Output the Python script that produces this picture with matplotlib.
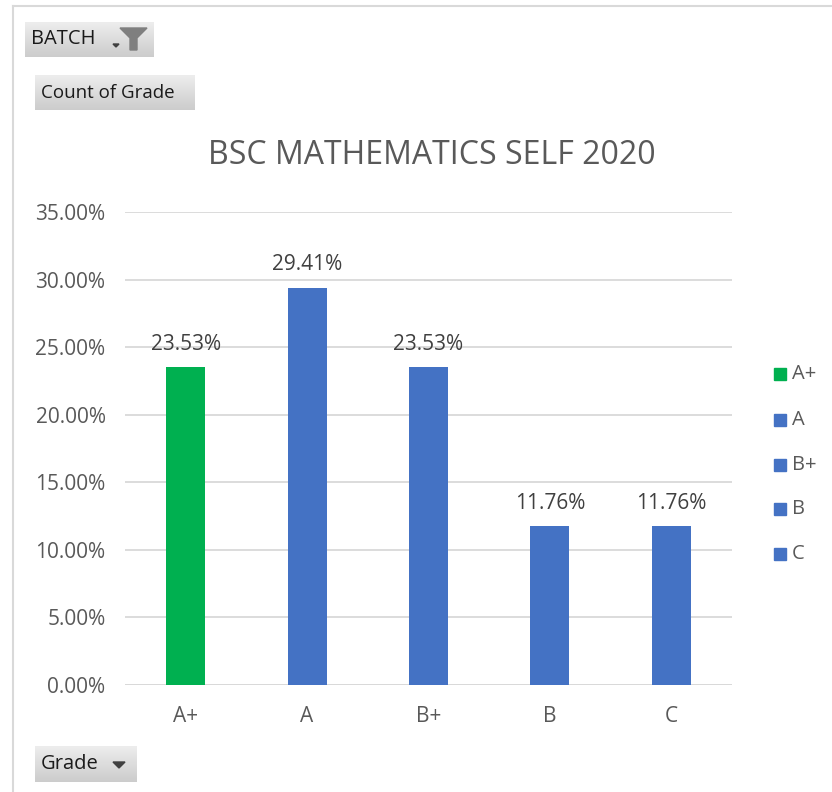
import numpy as np
import matplotlib
matplotlib.use("Agg")
import matplotlib.pyplot as plt
from matplotlib.patches import Rectangle, Polygon

plt.rcParams['font.family'] = ['Open Sans', 'DejaVu Sans']

categories = ["A+", "A", "B+", "B", "C"]
values = [23.53, 29.41, 23.53, 11.76, 11.76]
colors = ["#00B050", "#4472C4", "#4472C4", "#4472C4", "#4472C4"]
yticks = [0, 5, 10, 15, 20, 25, 30, 35]
title = "BSC MATHEMATICS SELF 2020"

W, H = 832, 792
fig = plt.figure(figsize=(W / 100, H / 100), dpi=100)

def fx(px):
    return px / W

def fy(py):
    return 1 - py / H

# outer border of chart area
fig.add_artist(plt.Line2D([fx(13), fx(13)], [fy(6), 0], color="#D9D9D9", lw=1.5))
fig.add_artist(plt.Line2D([fx(13), 1], [fy(6), fy(6)], color="#D9D9D9", lw=1.5))

ax = fig.add_axes([fx(125), fy(685), fx(732) - fx(125), fy(212) - fy(685)])
x = np.arange(len(categories))
bars = ax.bar(x, values, width=0.32, color=colors, zorder=3)
ax.set_xlim(-0.5, len(categories) - 0.5)
ax.set_ylim(0, 35)
ax.set_yticks(yticks)
ax.set_yticklabels([f"{v:.2f}%" for v in yticks])
ax.set_xticks(x)
ax.set_xticklabels(categories)
ax.yaxis.grid(True, color="#D9D9D9", lw=1.3, zorder=0)
for s in ax.spines.values():
    s.set_visible(False)
ax.axhline(0, color="#D9D9D9", lw=1.3, zorder=2)
ax.tick_params(axis="both", length=0, labelsize=15, labelcolor="#595959")
ax.tick_params(axis="y", pad=14)
ax.tick_params(axis="x", pad=15)

for xi, v in zip(x, values):
    ax.annotate(f"{v:.2f}%", (xi, v), xytext=(0, 9), textcoords="offset points",
                ha="center", va="bottom", fontsize=15, color="#404040")

fig.text(fx(432), fy(156), title, ha="center", va="center", fontsize=23, color="#595959")

# legend
leg_y = [374, 420, 465, 509, 554]
for cat, col, py in zip(categories, colors, leg_y):
    fig.add_artist(Rectangle((fx(774), fy(py + 6)), fx(12), fy(py - 6) - fy(py + 6),
                             color=col, transform=fig.transFigure))
    fig.text(fx(792), fy(py), cat, ha="left", va="center", fontsize=14.5, color="#595959")

# field buttons
def button(x0, y0, x1, y1, label, size, pad=6):
    bax = fig.add_axes([fx(x0), fy(y1), fx(x1) - fx(x0), fy(y0) - fy(y1)])
    grad = np.linspace(0.93, 0.80, 50).reshape(-1, 1)
    bax.imshow(np.dstack([grad, grad, grad]), aspect="auto", extent=[0, 1, 0, 1], origin="upper")
    bax.set_xlim(0, 1)
    bax.set_ylim(0, 1)
    bax.axis("off")
    fig.text(fx(x0 + pad), fy((y0 + y1) / 2), label, ha="left", va="center",
             fontsize=size, color="#1a1a1a")
    return bax

button(25, 22, 154, 57, "BATCH", 14.5)
# funnel icon
fig.add_artist(Polygon([[fx(120), fy(28)], [fx(147), fy(28)], [fx(137), fy(38)],
                        [fx(137), fy(50)], [fx(130), fy(50)], [fx(130), fy(38)]],
                       closed=True, color="#7F7F7F", transform=fig.transFigure))
fig.add_artist(Polygon([[fx(113), fy(44)], [fx(119), fy(44)], [fx(116), fy(47)]],
                       closed=True, color="#404040", transform=fig.transFigure))

button(35, 75, 195, 110, "Count of Grade", 13.5)
button(35, 746, 137, 782, "Grade", 14.5)
fig.add_artist(Polygon([[fx(113), fy(762)], [fx(125), fy(762)], [fx(119), fy(768)]],
                       closed=True, color="#404040", transform=fig.transFigure))

fig.savefig("out.png", dpi=100)
